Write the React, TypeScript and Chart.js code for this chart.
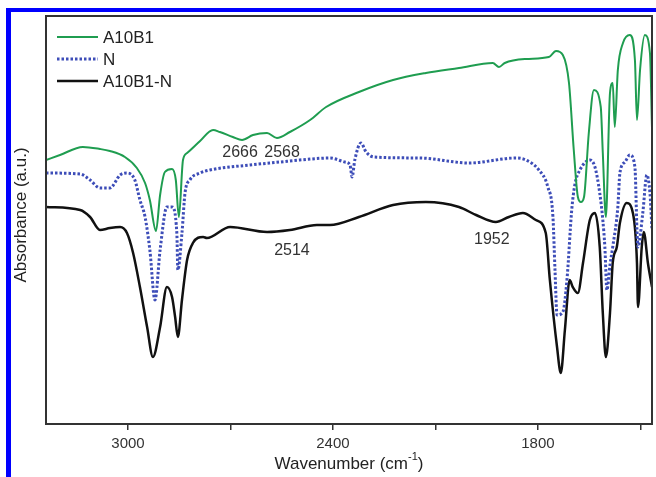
import React, { useEffect, useRef } from 'react';
import { Chart, registerables } from 'chart.js';

Chart.register(...registerables);

const FONT = '"Liberation Sans", Arial, Helvetica, sans-serif';

// X axis ticks (wavenumber, cm^-1)
const tickValues = [3000, 2700, 2400, 2100, 1800, 1500];
const tickLabels = ['3000', '', '2400', '', '1800', ''];

const seriesNames = ['A10B1', 'N', 'A10B1-N'];

// A10B1 (green)
const greenWn = [3240, 3199, 3132, 3082, 3053, 3009, 2974, 2950, 2936, 2918, 2906, 2892, 2871, 2860, 2851, 2839, 2827, 2789, 2751, 2731, 2693, 2666, 2634, 2593, 2564, 2526, 2467, 2420, 2324, 2224, 2128, 2031, 1932, 1914, 1897, 1835, 1768, 1747, 1727, 1709, 1695, 1683, 1674, 1665, 1651, 1636, 1616, 1610, 1601, 1589, 1581, 1575, 1566, 1551, 1531, 1516, 1510, 1501, 1487, 1472, 1466];
const greenAbs = [264, 269, 277, 275, 273, 267, 256, 241, 224, 193, 229, 252, 255, 244, 207, 264, 271, 283, 294, 292, 287, 284, 289, 291, 286, 292, 304, 317, 332, 344, 351, 356, 361, 357, 361, 365, 367, 373, 369, 341, 274, 227, 222, 227, 291, 334, 317, 271, 207, 331, 341, 297, 354, 381, 389, 364, 304, 354, 389, 371, 296];

// N (blue dotted)
const blueWn = [3240, 3140, 3111, 3082, 3053, 3023, 3003, 2980, 2965, 2950, 2936, 2921, 2906, 2886, 2871, 2857, 2854, 2842, 2833, 2819, 2789, 2760, 2643, 2555, 2497, 2409, 2365, 2350, 2344, 2336, 2318, 2303, 2280, 2145, 2002, 1864, 1835, 1797, 1771, 1756, 1750, 1744, 1727, 1715, 1701, 1692, 1677, 1648, 1633, 1619, 1610, 1604, 1598, 1589, 1581, 1566, 1560, 1545, 1531, 1516, 1510, 1507, 1493, 1481, 1472, 1466];
const blueAbs = [251, 250, 244, 236, 236, 249, 251, 244, 224, 207, 174, 124, 174, 217, 217, 191, 154, 191, 231, 244, 251, 254, 259, 262, 264, 266, 262, 259, 247, 264, 281, 272, 267, 266, 261, 266, 264, 254, 237, 207, 154, 109, 112, 144, 214, 239, 254, 264, 257, 231, 204, 177, 134, 159, 177, 217, 251, 262, 269, 257, 194, 177, 211, 249, 231, 194];

// A10B1-N (black)
const blackWn = [3240, 3140, 3111, 3082, 3053, 3023, 3003, 2985, 2965, 2944, 2927, 2906, 2886, 2871, 2862, 2854, 2842, 2827, 2810, 2780, 2769, 2701, 2593, 2526, 2447, 2409, 2324, 2224, 2128, 2031, 1981, 1923, 1885, 1844, 1806, 1777, 1765, 1744, 1733, 1721, 1707, 1698, 1683, 1668, 1648, 1633, 1619, 1610, 1601, 1589, 1581, 1569, 1560, 1540, 1522, 1510, 1507, 1496, 1490, 1478, 1466];
const blackAbs = [217, 214, 207, 194, 196, 197, 191, 171, 137, 97, 67, 97, 137, 127, 107, 87, 124, 164, 181, 187, 186, 197, 192, 194, 199, 199, 207, 219, 222, 217, 209, 202, 207, 211, 204, 191, 144, 77, 51, 94, 144, 137, 131, 161, 204, 211, 177, 111, 67, 111, 161, 177, 201, 221, 211, 161, 117, 177, 192, 161, 137];

// Peak annotations
const annotTexts = ['2666', '2568', '2514', '1952'];
const annotWn = [2672, 2549, 2520, 1935];
const annotAbs = [271, 271, 173, 184];

const toPoints = (xs: number[], ys: number[]) => xs.map((x, i) => ({ x, y: ys[i] }));

const overlayPlugin = {
  id: 'overlay',
  afterDraw(chart: any) {
    const { ctx, chartArea: a, scales } = chart;
    ctx.save();
    // blue outer frame
    ctx.fillStyle = '#0000ff';
    ctx.fillRect(6, 8, 5, 477 - 8);
    ctx.fillRect(6, 8, 656 - 6, 4);

    // plot frame
    ctx.strokeStyle = '#333';
    ctx.lineWidth = 2;
    ctx.strokeRect(a.left, a.top, a.right - a.left, a.bottom - a.top);

    // annotations
    ctx.fillStyle = '#333';
    ctx.font = `16px ${FONT}`;
    ctx.textAlign = 'center';
    ctx.textBaseline = 'middle';
    annotTexts.forEach((t, i) => {
      ctx.fillText(t, scales.x.getPixelForValue(annotWn[i]), scales.y.getPixelForValue(annotAbs[i]));
    });

    // legend
    chart.data.datasets.forEach((ds: any, i: number) => {
      const y = a.top + 21 + i * 22;
      ctx.strokeStyle = ds.borderColor;
      ctx.lineWidth = ds.borderWidth;
      ctx.setLineDash(ds.borderDash || []);
      ctx.beginPath();
      ctx.moveTo(a.left + 11, y);
      ctx.lineTo(a.left + 52, y);
      ctx.stroke();
      ctx.setLineDash([]);
      ctx.fillStyle = '#222';
      ctx.font = `17px ${FONT}`;
      ctx.textAlign = 'left';
      ctx.textBaseline = 'middle';
      ctx.fillText(ds.label, a.left + 57, y + 1);
    });

    // x title with superscript
    const cx = (a.left + a.right) / 2;
    const ty = 464;
    const main = 'Wavenumber (cm';
    const sup = '-1';
    const close = ')';
    ctx.font = `17px ${FONT}`;
    const wMain = ctx.measureText(main).width;
    const wClose = ctx.measureText(close).width;
    ctx.font = `11px ${FONT}`;
    const wSup = ctx.measureText(sup).width;
    const total = wMain + wSup + wClose;
    const x0 = cx - total / 2;
    ctx.fillStyle = '#222';
    ctx.textAlign = 'left';
    ctx.textBaseline = 'middle';
    ctx.font = `17px ${FONT}`;
    ctx.fillText(main, x0, ty);
    ctx.font = `11px ${FONT}`;
    ctx.fillText(sup, x0 + wMain, ty - 7);
    ctx.font = `17px ${FONT}`;
    ctx.fillText(close, x0 + wMain + wSup, ty);

    // y title
    ctx.translate(21, 215);
    ctx.rotate(-Math.PI / 2);
    ctx.textAlign = 'center';
    ctx.fillText('Absorbance (a.u.)', 0, 0);
    ctx.restore();
  },
};

export default function App() {
  const canvasRef = useRef<HTMLCanvasElement | null>(null);

  useEffect(() => {
    if (!canvasRef.current) return;
    const chart = new Chart(canvasRef.current, {
      type: 'line',
      data: {
        datasets: [
          {
            label: seriesNames[0],
            data: toPoints(greenWn, greenAbs),
            borderColor: '#1f9d50',
            borderWidth: 2,
            pointRadius: 0,
            cubicInterpolationMode: 'monotone',
            fill: false,
          },
          {
            label: seriesNames[1],
            data: toPoints(blueWn, blueAbs),
            borderColor: '#3d4db8',
            borderWidth: 3,
            borderDash: [2.5, 2],
            pointRadius: 0,
            cubicInterpolationMode: 'monotone',
            fill: false,
          },
          {
            label: seriesNames[2],
            data: toPoints(blackWn, blackAbs),
            borderColor: '#111111',
            borderWidth: 2.5,
            pointRadius: 0,
            cubicInterpolationMode: 'monotone',
            fill: false,
          },
        ],
      },
      options: {
        animation: false,
        responsive: true,
        maintainAspectRatio: false,
        layout: { padding: { top: 16, right: 4, left: 0, bottom: 0 } },
        plugins: { legend: { display: false }, tooltip: { enabled: false } },
        scales: {
          x: {
            type: 'linear',
            reverse: true,
            min: 1466,
            max: 3240,
            afterBuildTicks: (s: any) => {
              s.ticks = tickValues.map((v) => ({ value: v }));
            },
            afterFit: (s: any) => {
              s.height = 53;
            },
            ticks: {
              autoSkip: false,
              maxRotation: 0,
              callback: (_v: any, i: number) => tickLabels[i] ?? '',
              font: { family: FONT, size: 15 },
              color: '#333',
              padding: 5,
            },
            grid: {
              display: true,
              drawOnChartArea: false,
              drawTicks: true,
              tickLength: 6,
              color: '#333',
              lineWidth: 1.5,
            },
            border: { display: false },
          },
          y: {
            min: 0,
            max: 408,
            ticks: { display: false },
            grid: { display: false },
            border: { display: false },
            afterFit: (s: any) => {
              s.width = 46;
            },
          },
        },
      },
      plugins: [overlayPlugin],
    });
    return () => chart.destroy();
  }, []);

  return (
    <div style={{ position: 'fixed', left: 0, top: 0, width: 656, height: 477, background: '#fff' }}>
      <canvas ref={canvasRef} />
    </div>
  );
}
